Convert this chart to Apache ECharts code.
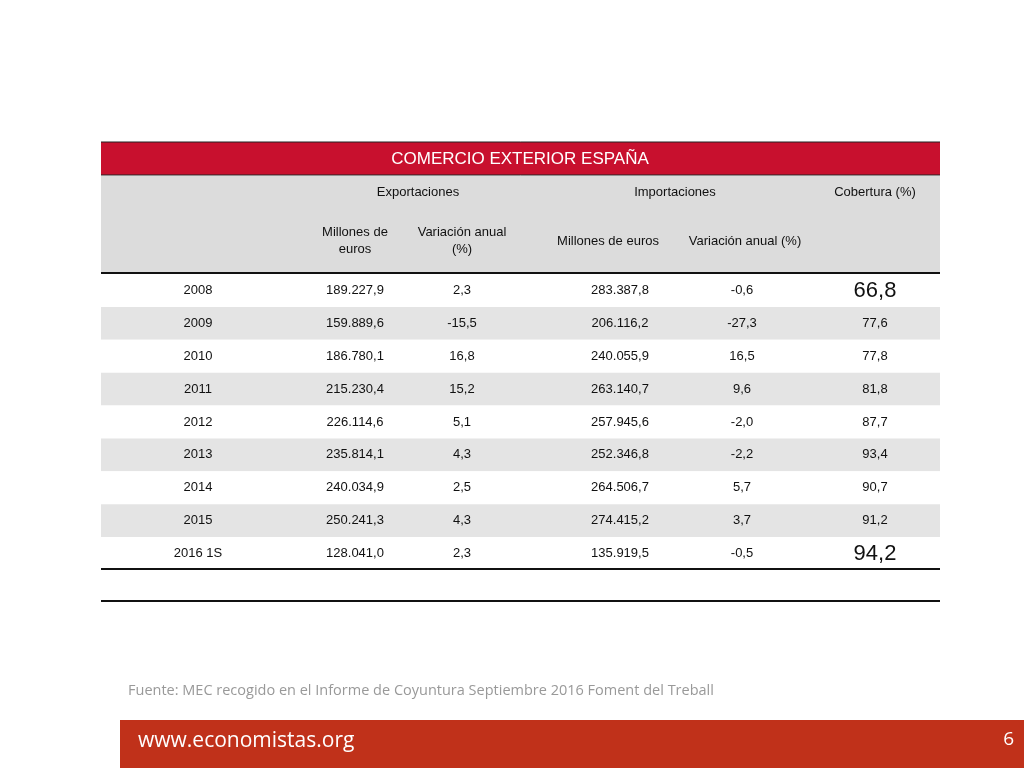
<!DOCTYPE html>
<html><head><meta charset="utf-8">
<script src="https://cdn.jsdelivr.net/npm/echarts@6/dist/echarts.min.js"></script>
<style>html,body{margin:0;padding:0;background:#fff}#c{width:1024px;height:768px}</style>
</head><body><div id="c"></div>
<script>
const title = 'COMERCIO EXTERIOR ESPAÑA';
const years = ['2008','2009','2010','2011','2012','2013','2014','2015','2016 1S'];
const exportsM = ['189.227,9','159.889,6','186.780,1','215.230,4','226.114,6','235.814,1','240.034,9','250.241,3','128.041,0'];
const exportsVar = ['2,3','-15,5','16,8','15,2','5,1','4,3','2,5','4,3','2,3'];
const importsM = ['283.387,8','206.116,2','240.055,9','263.140,7','257.945,6','252.346,8','264.506,7','274.415,2','135.919,5'];
const importsVar = ['-0,6','-27,3','16,5','9,6','-2,0','-2,2','5,7','3,7','-0,5'];
const cobertura = ['66,8','77,6','77,8','81,8','87,7','93,4','90,7','91,2','94,2'];
const highlighted = ['2008','2016 1S'];
const source = 'Fuente: MEC recogido en el Informe de Coyuntura Septiembre 2016 Foment del Treball';
const site = 'www.economistas.org';
const page = '6';

const L = 101, R = 940;
const colX = [198, 355, 462, 620, 742, 875];
const cols = [years, exportsM, exportsVar, importsM, importsVar, cobertura];

const cellData = [];
years.forEach((y, r) => cols.forEach((c, ci) => {
  cellData.push({value: [colX[ci], y], text: c[r], big: ci === 5 && highlighted.includes(y)});
}));
const FONT = '"Liberation Sans", Arial, sans-serif';

const chart = echarts.init(document.getElementById('c'));
chart.setOption({
  animation: false,
  grid: {left: L, right: 1024 - R, top: 274, bottom: 768 - 570},
  xAxis: {type: 'value', min: L, max: R, show: false},
  yAxis: {type: 'category', data: years, inverse: true, show: false},
  series: [
    {
      type: 'custom',
      data: years.map((y, i) => [i, y]),
      renderItem: (params, api) => {
        const i = api.value(0);
        const p = api.coord([L, api.value(1)]);
        const h = api.size([0, 1])[1];
        const w = api.coord([R, 0])[0] - p[0];
        return {type: 'rect', shape: {x: p[0], y: p[1] - h / 2, width: w, height: h},
          style: {fill: i % 2 === 1 ? '#e4e4e4' : '#ffffff'}};
      },
      encode: {x: -1, y: 1}, z: 1
    },
    {
      type: 'custom',
      data: cellData.map(d => ({value: d.value, text: d.text, big: d.big})),
      renderItem: (params, api) => {
        const d = cellData[params.dataIndex];
        const p = api.coord(d.value);
        return {type: 'text', x: p[0], y: p[1],
          style: {text: d.text, align: 'center', verticalAlign: 'middle',
            font: (d.big ? '22px ' : '13px ') + FONT, fill: '#111'}};
      },
      encode: {x: 0, y: 1}, z: 3
    }
  ],
  graphic: [
    {type: 'rect', shape: {x: L, y: 142, width: R - L, height: 33}, style: {fill: '#c8102e'}},
    {type: 'line', shape: {x1: L, y1: 142, x2: R, y2: 142}, style: {stroke: '#222', lineWidth: 1}},
    {type: 'line', shape: {x1: L, y1: 175, x2: R, y2: 175}, style: {stroke: '#222', lineWidth: 1}},
    {type: 'text', x: 520, y: 159, style: {text: title, align: 'center', verticalAlign: 'middle', font: '17px ' + FONT, fill: '#fff'}},
    {type: 'rect', shape: {x: L, y: 176, width: R - L, height: 96}, style: {fill: '#dcdcdc'}},
    {type: 'text', x: 418, y: 192, style: {text: 'Exportaciones', align: 'center', verticalAlign: 'middle', font: '13px ' + FONT, fill: '#111'}},
    {type: 'text', x: 675, y: 192, style: {text: 'Importaciones', align: 'center', verticalAlign: 'middle', font: '13px ' + FONT, fill: '#111'}},
    {type: 'text', x: 875, y: 192, style: {text: 'Cobertura (%)', align: 'center', verticalAlign: 'middle', font: '13px ' + FONT, fill: '#111'}},
    {type: 'text', x: 355, y: 241, style: {text: 'Millones de\neuros', align: 'center', verticalAlign: 'middle', lineHeight: 17, font: '13px ' + FONT, fill: '#111'}},
    {type: 'text', x: 462, y: 241, style: {text: 'Variación anual\n(%)', align: 'center', verticalAlign: 'middle', lineHeight: 17, font: '13px ' + FONT, fill: '#111'}},
    {type: 'text', x: 608, y: 241, style: {text: 'Millones de euros', align: 'center', verticalAlign: 'middle', font: '13px ' + FONT, fill: '#111'}},
    {type: 'text', x: 745, y: 241, style: {text: 'Variación anual (%)', align: 'center', verticalAlign: 'middle', font: '13px ' + FONT, fill: '#111'}},
    {type: 'line', z: 100, shape: {x1: L, y1: 273, x2: R, y2: 273}, style: {stroke: '#111', lineWidth: 2}},
    {type: 'line', z: 100, shape: {x1: L, y1: 569, x2: R, y2: 569}, style: {stroke: '#111', lineWidth: 2}},
    {type: 'line', z: 100, shape: {x1: L, y1: 601, x2: R, y2: 601}, style: {stroke: '#111', lineWidth: 2}},
    {type: 'text', x: 128, y: 691, style: {text: source, verticalAlign: 'middle', font: '14.5px "Open Sans", sans-serif', fill: '#999'}},
    {type: 'rect', shape: {x: 120, y: 720, width: 904, height: 48}, style: {fill: '#c0311a'}},
    {type: 'text', x: 138, y: 741, style: {text: site, verticalAlign: 'middle', font: '21px "Open Sans", sans-serif', fill: '#fff'}},
    {type: 'text', x: 1014, y: 740, style: {text: page, align: 'right', verticalAlign: 'middle', font: '19px "Open Sans", sans-serif', fill: '#fff'}}
  ]
});
</script></body></html>
